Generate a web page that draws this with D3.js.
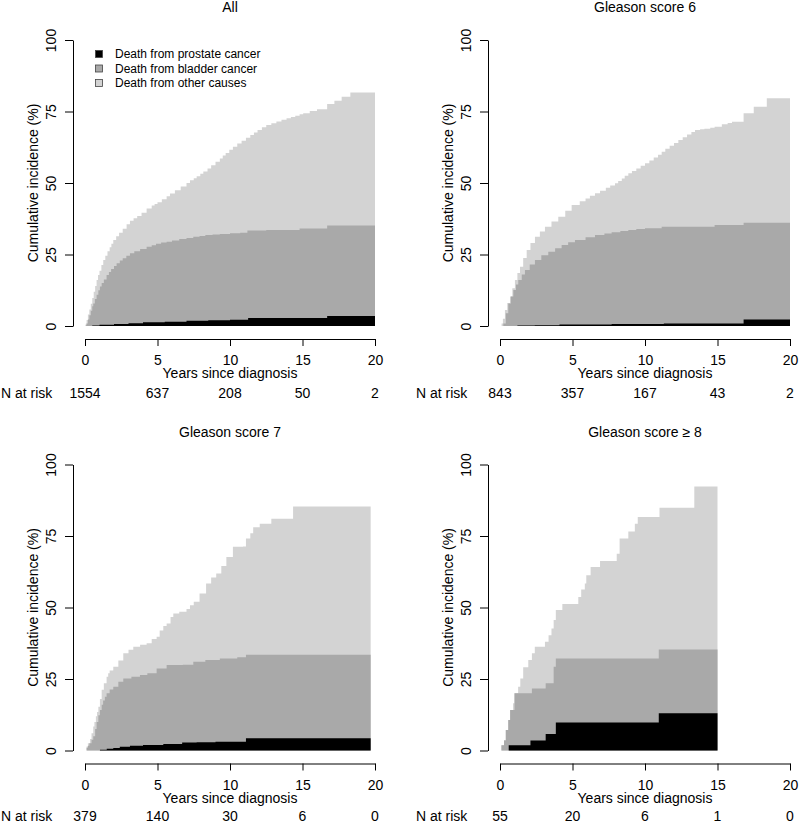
<!DOCTYPE html>
<html>
<head>
<meta charset="utf-8">
<script src="https://cdn.jsdelivr.net/npm/d3@7"></script>
<style>
  html, body { margin: 0; padding: 0; background: #ffffff; }
  svg { display: block; font-family: "Liberation Sans", Arial, Helvetica, sans-serif; }
</style>
</head>
<body>
<svg id="chart" width="800" height="822"></svg>
<script>
// ---------------- DATA ----------------
const xTicks = [0, 5, 10, 15, 20];
const yTicks = [0, 25, 50, 75, 100];
const legendLabels = ["Death from prostate cancer", "Death from bladder cancer", "Death from other causes"];
const panelTitles = ["All", "Gleason score 6", "Gleason score 7", "Gleason score \u2265 8"];

// upper boundary of each stacked layer: [years, cumulative incidence %]
const allTotal = [[0,0],[0.05,0.8],[0.11,2.1],[0.2,4],[0.3,5.8],[0.4,7.8],[0.5,9.8],[0.6,12],[0.7,14],[0.8,16.1],[0.9,17.8],[1.0,19.3],[1.13,21.3],[1.26,23.1],[1.4,24.6],[1.55,26.1],[1.7,27.5],[1.82,28.8],[1.95,30.1],[2.15,31.4],[2.35,32.6],[2.6,34],[2.87,35.6],[3.1,36.8],[3.35,37.7],[3.6,38.5],[3.9,39.6],[4.25,41.1],[4.6,42.1],[4.8,42.7],[5.0,43.3],[5.3,44.3],[5.63,45.4],[5.86,46.3],[6.2,47.5],[6.6,48.8],[7.0,50.0],[7.24,51],[7.5,51.7],[7.7,52.4],[7.95,53.2],[8.16,54],[8.45,55.1],[8.7,56.2],[9.0,57.4],[9.3,58.6],[9.5,59.6],[9.7,60.5],[9.95,61.6],[10.2,62.7],[10.5,63.8],[10.8,64.8],[11.1,65.8],[11.4,66.8],[11.65,67.7],[11.9,68.5],[12.2,69.5],[12.5,70.3],[12.85,70.9],[13.2,71.5],[13.55,72.1],[13.9,72.6],[14.2,73.1],[14.5,73.5],[14.8,74],[15.05,74.4],[15.5,75.2],[16.0,75.8],[16.7,77.6],[17.2,78.8],[17.7,80.2],[18.3,81.6],[20,81.6]];
const allBladderTop = [[0,0],[0.05,0.3],[0.11,0.9],[0.2,2.3],[0.3,3.8],[0.4,5.3],[0.5,6.9],[0.57,7.9],[0.68,9.4],[0.8,10.9],[0.92,12.5],[1.03,13.8],[1.15,15],[1.3,16.3],[1.49,17.8],[1.65,18.9],[1.8,19.9],[2.0,21],[2.18,21.9],[2.4,22.9],[2.6,23.7],[2.85,24.6],[3.1,25.4],[3.4,26.1],[3.8,26.9],[4.25,27.7],[4.6,28.2],[4.9,28.8],[5.25,29.2],[5.63,29.5],[6.0,29.9],[6.5,30.4],[7.0,30.8],[7.47,31.2],[7.9,31.5],[8.3,31.8],[8.8,32],[9.3,32.2],[10.0,32.4],[10.7,32.6],[11.2,33.4],[12.5,33.6],[14.8,34.1],[16.7,35.1],[20,35.1]];
const allProstate = [[0,0],[0.5,0.2],[1.0,0.4],[2.0,0.7],[3.0,1.0],[4.0,1.3],[5.5,1.5],[7.0,1.8],[8.5,2.0],[10.0,2.2],[11.25,2.8],[16.7,3.5],[20,3.5]];

const g6Total = [[0,0],[0.11,0.9],[0.2,2.5],[0.34,5.6],[0.5,8],[0.69,10.3],[0.85,13.2],[1.03,16.1],[1.2,18.5],[1.38,20.7],[1.6,23.8],[1.84,26.6],[2.1,29],[2.41,31.2],[2.75,33],[3.1,34.7],[3.55,36.5],[4.02,38.2],[4.5,40.3],[4.94,42.3],[5.5,43.6],[5.9,44.6],[6.2,45.5],[6.55,46.4],[6.9,47.3],[7.3,48.3],[7.6,49.1],[7.93,49.9],[8.15,50.7],[8.4,51.6],[8.6,52.5],[8.85,53.4],[9.1,54.2],[9.4,55.1],[9.7,56],[10.0,56.9],[10.3,57.9],[10.6,58.9],[10.9,59.9],[11.15,60.9],[11.4,62],[11.7,63],[12.0,64],[12.3,65],[12.6,66],[12.9,67],[13.2,67.8],[13.45,68.5],[13.8,68.8],[14.1,69],[14.5,69.3],[14.8,69.7],[15.3,70.5],[15.7,71],[16.0,71.4],[16.8,74.4],[17.5,76.7],[18.4,79.6],[20,79.6]];
const g6BladderTop = [[0,0],[0.23,0.9],[0.4,4.5],[0.57,7.9],[0.75,10.3],[0.92,12.6],[1.1,14.5],[1.26,16.1],[1.5,18],[1.72,19.6],[2.05,21.5],[2.41,23.1],[2.85,24.7],[3.33,26],[3.8,27.2],[4.25,28.3],[4.7,29.3],[5.17,30.1],[5.9,31],[6.55,31.8],[7.2,32.3],[7.7,32.8],[8.3,33.2],[8.85,33.6],[9.4,33.9],[10.0,34.2],[11.15,34.7],[14.8,35.3],[16.8,36.1],[20,36.1]];
const g6Prostate = [[0,0],[1.2,0.2],[2.4,0.3],[4.1,0.5],[7.7,0.7],[11.3,0.9],[16.8,2.3],[20,2.3]];

const g7Total = [[0,0],[0.11,1.4],[0.2,2.5],[0.35,4],[0.45,6],[0.57,8.4],[0.65,10],[0.75,12],[0.83,13.5],[0.92,15.3],[1.03,18],[1.15,21.2],[1.3,23.5],[1.49,25.8],[1.6,27],[1.7,28],[1.95,29.3],[2.3,31.5],[2.64,34],[3.0,35.2],[3.33,36.3],[3.8,37],[4.25,37.5],[4.6,39],[4.94,39.8],[5.15,42],[5.4,43.5],[5.63,44.4],[5.9,46.7],[6.09,47.9],[6.5,48.5],[7.0,49.5],[7.24,50.8],[7.5,52],[7.9,54.9],[8.35,58.4],[8.7,60.5],[9.05,61.9],[9.4,64.5],[9.75,67.7],[10.2,71.2],[10.9,71.3],[11.1,74.1],[11.4,76],[11.6,78.1],[12.05,79.3],[12.85,81],[14.35,85.3],[19.7,85.3]];
const g7BladderTop = [[0,0],[0.11,1],[0.2,1.7],[0.3,2.5],[0.45,3.8],[0.57,5],[0.7,7.5],[0.8,10],[0.92,12.3],[1.03,14.2],[1.15,16],[1.25,17.5],[1.37,18.8],[1.49,20],[1.7,21.3],[1.95,22.3],[2.3,24],[2.64,25.2],[3.2,25.8],[3.79,26.4],[4.3,27],[4.94,28.7],[5.63,29.9],[6.75,30],[7.47,31],[8.3,31.6],[9.3,32.2],[10.5,32.6],[11.1,33.5],[19.7,33.5]];
const g7Prostate = [[0,0],[1.03,0.3],[1.5,0.6],[1.95,0.9],[2.4,1.3],[3.1,1.7],[4.0,1.9],[5.4,2.3],[6.7,2.8],[7.7,2.9],[9.0,3.1],[11.1,4.3],[19.7,4.3]];

const g8Total = [[0,0],[0.1,1.8],[0.28,3.7],[0.4,7.2],[0.57,10.7],[0.7,14.2],[0.9,16.5],[1.0,20],[1.25,22.3],[1.4,25.2],[1.6,29.1],[1.95,31.6],[2.2,34],[2.4,36.3],[3.1,38],[3.35,40.3],[3.55,42.7],[3.7,45.6],[3.85,49.1],[4.3,51.2],[5.4,53.7],[5.6,56.3],[5.85,58.4],[5.95,61.3],[6.25,64.2],[6.9,66.3],[8.05,68.8],[8.25,74.1],[8.85,76.6],[9.3,79.3],[9.5,81.6],[11.0,84.9],[13.4,92.3],[15.0,92.3]];
const g8BladderTop = [[0,0],[0.1,1.8],[0.28,3.5],[0.4,7.2],[0.57,10.7],[0.7,14.2],[1.0,20],[2.2,21.7],[3.15,23.5],[3.7,29.3],[3.85,32.2],[10.95,35.3],[15.0,35.3]];
const g8Prostate = [[0,0],[0.6,1.8],[2.1,3.5],[3.15,5.8],[3.85,9.8],[10.95,13.0],[15.0,13.0]];

const allRisk = [1554, 637, 208, 50, 2];
const g6Risk = [843, 357, 167, 43, 2];
const g7Risk = [379, 140, 30, 6, 0];
const g8Risk = [55, 20, 6, 1, 0];

// ---------------- LAYOUT ----------------
const colors = { other: "#d3d3d3", bladder: "#a9a9a9", prostate: "#000000" };
const panels = [
  { title: panelTitles[0], total: allTotal, bladder: allBladderTop, prostate: allProstate, risk: allRisk, ox: 0,   oy: 0,     riskY: 398,  legend: true },
  { title: panelTitles[1], total: g6Total,  bladder: g6BladderTop,  prostate: g6Prostate,  risk: g6Risk,  ox: 415, oy: 0,     riskY: 398,  legend: false },
  { title: panelTitles[2], total: g7Total,  bladder: g7BladderTop,  prostate: g7Prostate,  risk: g7Risk,  ox: 0,   oy: 424.5, riskY: 396, legend: false },
  { title: panelTitles[3], total: g8Total,  bladder: g8BladderTop,  prostate: g8Prostate,  risk: g8Risk,  ox: 415, oy: 424.5, riskY: 396, legend: false }
];

const svg = d3.select("#chart");
const FONT = 14;

panels.forEach(p => {
  const g = svg.append("g").attr("transform", `translate(${p.ox},${p.oy})`);
  const x = d3.scaleLinear().domain([0, 20]).range([85, 375]);
  const y = d3.scaleLinear().domain([0, 100]).range([326, 40]);

  const area = d3.area()
    .curve(d3.curveStepAfter)
    .x(d => x(d[0]))
    .y0(y(0))
    .y1(d => y(d[1]));

  g.append("path").datum(p.total).attr("d", area).attr("fill", colors.other);
  g.append("path").datum(p.bladder).attr("d", area).attr("fill", colors.bladder);
  g.append("path").datum(p.prostate).attr("d", area).attr("fill", colors.prostate);

  // y axis
  const yAxis = g.append("g")
    .attr("transform", "translate(73,0)")
    .call(d3.axisLeft(y).tickValues(yTicks).tickSize(8).tickSizeOuter(0).tickFormat(d3.format("d")));
  yAxis.select(".domain").attr("stroke", "#000");
  yAxis.selectAll(".tick line").attr("stroke", "#000");
  yAxis.selectAll(".tick text")
    .attr("x", null).attr("dy", null)
    .attr("text-anchor", "middle")
    .attr("transform", "translate(-17.5,0) rotate(-90)")
    .attr("font-size", FONT)
    .attr("font-family", "Liberation Sans, Arial, sans-serif")
    .attr("fill", "#000");

  // x axis
  const xAxis = g.append("g")
    .attr("transform", "translate(0,339)")
    .call(d3.axisBottom(x).tickValues(xTicks).tickSize(7).tickSizeOuter(0).tickFormat(d3.format("d")));
  xAxis.select(".domain").attr("stroke", "#000");
  xAxis.selectAll(".tick line").attr("stroke", "#000");
  xAxis.selectAll(".tick text")
    .attr("y", 26).attr("dy", null)
    .attr("font-size", FONT)
    .attr("font-family", "Liberation Sans, Arial, sans-serif")
    .attr("fill", "#000");

  // labels
  g.append("text")
    .attr("x", 230).attr("y", 378)
    .attr("text-anchor", "middle").attr("font-size", FONT)
    .text("Years since diagnosis");
  g.append("text")
    .attr("transform", `translate(37.5,${(y(0) + y(100)) / 2}) rotate(-90)`)
    .attr("text-anchor", "middle").attr("font-size", FONT)
    .text("Cumulative incidence (%)");
  g.append("text")
    .attr("x", 230).attr("y", 12)
    .attr("text-anchor", "middle").attr("font-size", FONT)
    .text(p.title);

  // N at risk row
  g.append("text")
    .attr("x", 1).attr("y", p.riskY)
    .attr("font-size", FONT)
    .text("N at risk");
  g.selectAll("text.risk")
    .data(p.risk)
    .join("text")
    .attr("class", "risk")
    .attr("x", (d, i) => x(xTicks[i]))
    .attr("y", p.riskY)
    .attr("text-anchor", "middle")
    .attr("font-size", FONT)
    .text(d => d);

  if (p.legend) {
    const lg = g.append("g");
    const items = [colors.prostate, colors.bladder, colors.other];
    items.forEach((c, i) => {
      const cy = 54 + i * 14.5;
      lg.append("rect")
        .attr("x", 95.5).attr("y", cy - 3.5)
        .attr("width", 7).attr("height", 7)
        .attr("fill", c).attr("stroke", "#444").attr("stroke-width", 0.8);
      lg.append("text")
        .attr("x", 115).attr("y", cy + 4.3)
        .attr("font-size", 12)
        .text(legendLabels[i]);
    });
  }
});
</script>
</body>
</html>
